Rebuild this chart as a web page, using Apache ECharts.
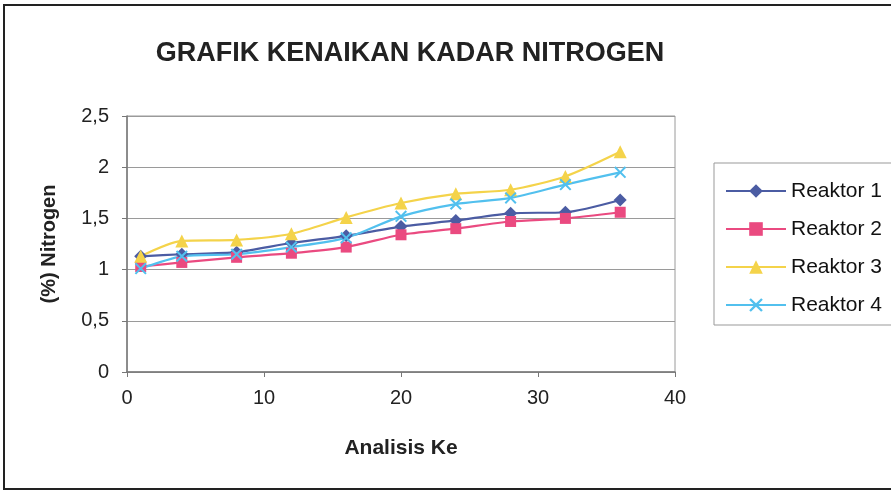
<!DOCTYPE html>
<html>
<head>
<meta charset="utf-8">
<script src="https://cdn.jsdelivr.net/npm/echarts@6/dist/echarts.min.js"></script>
<style>
  html, body { margin: 0; padding: 0; background: #fff; }
  #chart { width: 891px; height: 493px; }
</style>
</head>
<body>
<div id="chart"></div>
<script>
// Sampling points (analysis number) and nitrogen content (%) per reactor
const analisisKe = [1, 4, 8, 12, 16, 20, 24, 28, 32, 36];
const reaktor1 = [1.13, 1.15, 1.17, 1.26, 1.33, 1.42, 1.48, 1.55, 1.56, 1.68];
const reaktor2 = [1.03, 1.07, 1.12, 1.16, 1.22, 1.34, 1.40, 1.47, 1.50, 1.56];
const reaktor3 = [1.13, 1.28, 1.29, 1.35, 1.51, 1.65, 1.74, 1.78, 1.91, 2.15];
const reaktor4 = [1.01, 1.13, 1.15, 1.22, 1.31, 1.52, 1.64, 1.70, 1.83, 1.95];
const seriesNames = ['Reaktor 1', 'Reaktor 2', 'Reaktor 3', 'Reaktor 4'];

const FONT = '"Liberation Sans", Arial, sans-serif';
const crossPath = 'path://M0,1.2 L1.2,0 L5,3.8 L8.8,0 L10,1.2 L6.2,5 L10,8.8 L8.8,10 L5,6.2 L1.2,10 L0,8.8 L3.8,5 Z';

function pairs(values) {
  return analisisKe.map((x, i) => [x, values[i]]);
}

function makeSeries(name, values, color, symbol, size) {
  return {
    name: name,
    type: 'line',
    data: pairs(values),
    smooth: 0.25,
    symbol: symbol,
    symbolSize: size,
    lineStyle: { color: color, width: 2.2 },
    itemStyle: { color: color },
    emphasis: { disabled: true }
  };
}

const chart = echarts.init(document.getElementById('chart'), null, { renderer: 'canvas' });
chart.setOption({
  animation: false,
  backgroundColor: '#fff',
  title: {
    text: 'GRAFIK KENAIKAN KADAR NITROGEN',
    left: 405,
    textAlign: 'center',
    top: 35,
    textStyle: { fontFamily: FONT, fontSize: 27, fontWeight: 'bold', color: '#222' }
  },
  legend: {
    orient: 'vertical',
    left: 720,
    top: 175,
    itemWidth: 60,
    itemHeight: 17,
    itemGap: 16,
    textStyle: { fontFamily: FONT, fontSize: 21, color: '#111', lineHeight: 22 },
    data: seriesNames
  },
  grid: {
    left: 127, right: 216, top: 116, bottom: 121,
    show: true, borderColor: '#9a9a9a', borderWidth: 1
  },
  xAxis: {
    type: 'value',
    min: 0, max: 40, interval: 10,
    name: 'Analisis Ke',
    nameLocation: 'middle',
    nameGap: 66,
    nameTextStyle: { fontFamily: FONT, fontSize: 21, fontWeight: 'bold', color: '#222' },
    axisLine: { show: true, lineStyle: { color: '#777', width: 1.5 } },
    axisTick: { show: true, inside: false, length: 5, lineStyle: { color: '#777' } },
    axisLabel: { fontFamily: FONT, fontSize: 20, color: '#222', margin: 16 },
    splitLine: { show: false }
  },
  yAxis: {
    type: 'value',
    min: 0, max: 2.5, interval: 0.5,
    name: '(%) Nitrogen',
    nameLocation: 'middle',
    nameGap: 68,
    nameTextStyle: { fontFamily: FONT, fontSize: 20, fontWeight: 'bold', color: '#222' },
    axisLine: { show: true, lineStyle: { color: '#777', width: 1.5 } },
    axisTick: { show: true, inside: false, length: 5, lineStyle: { color: '#777' } },
    axisLabel: {
      fontFamily: FONT, fontSize: 20, color: '#222', margin: 18,
      formatter: v => String(v).replace('.', ',')
    },
    splitLine: { show: true, lineStyle: { color: '#9a9a9a', width: 1 } }
  },
  graphic: [
    {
      type: 'rect',
      shape: { x: 4, y: 5, width: 900, height: 484 },
      style: { fill: 'none', stroke: '#222', lineWidth: 2 },
      silent: true
    },
    {
      type: 'rect',
      shape: { x: 714, y: 163, width: 190, height: 162 },
      style: { fill: 'none', stroke: '#999', lineWidth: 1 },
      silent: true
    }
  ],
  series: [
    makeSeries(seriesNames[0], reaktor1, '#4b5ca3', 'diamond', 13),
    makeSeries(seriesNames[1], reaktor2, '#ea4a80', 'rect', 11),
    makeSeries(seriesNames[2], reaktor3, '#f4d34a', 'triangle', 13),
    makeSeries(seriesNames[3], reaktor4, '#52c0ee', crossPath, 12)
  ]
});
</script>
</body>
</html>
